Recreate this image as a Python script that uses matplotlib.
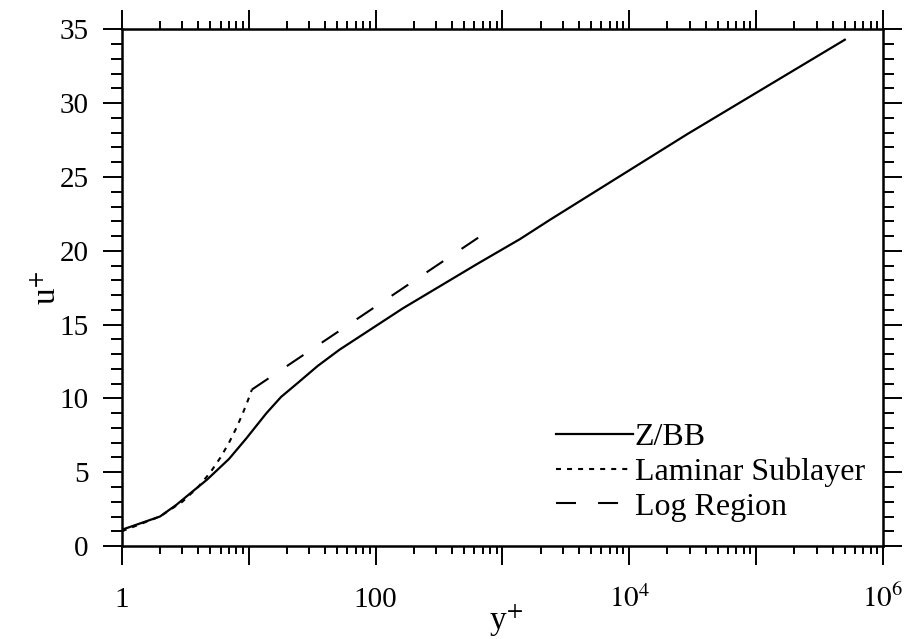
import matplotlib
matplotlib.use('Agg')
from matplotlib import pyplot as plt
from matplotlib.ticker import FixedLocator, FixedFormatter, LogLocator, NullFormatter, MultipleLocator

matplotlib.rcParams['font.family'] = 'Liberation Serif'
matplotlib.rcParams['mathtext.fontset'] = 'stix'

# Z/BB velocity profile (y+, u+)
yplus_zbb = [1, 2, 2.7, 3.5, 4.7, 7, 9.6, 13.8, 18, 24, 35, 52, 164, 630, 1380, 2370, 28600, 5.0e5]
uplus_zbb = [1.1, 2.0, 2.8, 3.6, 4.5, 5.9, 7.3, 9.0, 10.1, 11.0, 12.2, 13.3, 16.1, 19.1, 20.8, 22.1, 27.9, 34.3]

# laminar sublayer u+ = y+
yplus_lam = [1, 2, 3, 4, 5, 6, 7, 8, 9, 10, 10.6]
uplus_lam = [1, 2, 3, 4, 5, 6, 7, 8, 9, 10, 10.6]

# log region
yplus_log = [10.6, 730]
uplus_log = [10.6, 21.2]

xticks = [1, 10, 100, 1e3, 1e4, 1e5, 1e6]
xticklabels = ['1', '', '100', '', r'$10^4$', '', r'$10^6$']

fig = plt.figure(figsize=(9.09, 6.39), dpi=100)
ax = fig.add_axes([0.134, 0.1455, 0.8374, 0.8085])

ax.plot(yplus_zbb, uplus_zbb, 'k-', lw=1.6, label='Z/BB')
ax.plot(yplus_lam, uplus_lam, color='k', lw=1.5, linestyle=(0, (2.4, 2.9)), label='Laminar Sublayer')
ax.plot(yplus_log, uplus_log, color='k', lw=1.5, linestyle=(0, (9.6, 10.6)), label='Log Region')

ax.set_xscale('log')
ax.set_xlim(1, 1e6)
ax.set_ylim(0, 35)

ax.xaxis.set_major_locator(FixedLocator(xticks))
ax.xaxis.set_major_formatter(FixedFormatter(xticklabels))
ax.xaxis.set_minor_locator(LogLocator(base=10, subs=range(2, 10), numticks=20))
ax.xaxis.set_minor_formatter(NullFormatter())
ax.yaxis.set_major_locator(MultipleLocator(5))
ax.yaxis.set_minor_locator(MultipleLocator(1))

ax.tick_params(which='both', direction='out', top=True, right=True, width=1.4, labelsize=21)
ax.tick_params(axis='x', which='major', length=14, pad=30)
ax.tick_params(axis='x', which='minor', length=6)
ax.tick_params(axis='y', which='major', length=14, pad=10)
ax.tick_params(axis='y', which='minor', length=8)
for t in ax.xaxis.get_major_ticks():
    t.label1.set_va('baseline')
for s in ax.spines.values():
    s.set_linewidth(1.8)

ax.set_xlabel(r'y$^{+}$', fontsize=24)
ax.xaxis.set_label_coords(0.505, -0.11)
ax.set_ylabel(r'u$^{+}$', fontsize=24)
ax.yaxis.set_label_coords(-0.078, 0.5)

ax.legend(loc='upper left', bbox_to_anchor=(0.55, 0.27), frameon=False, fontsize=23,
          handlelength=2.4, handletextpad=0.05, labelspacing=0.17, borderpad=0)

fig.savefig('out.png', dpi=100)
